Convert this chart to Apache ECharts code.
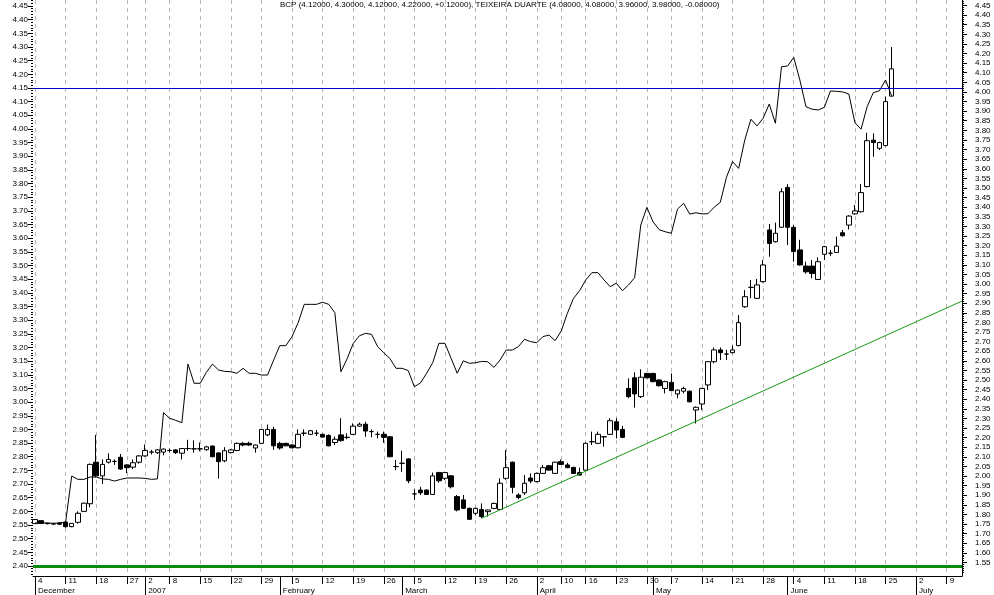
<!DOCTYPE html>
<html>
<head>
<meta charset="utf-8">
<script src="https://cdn.jsdelivr.net/npm/echarts@6/dist/echarts.min.js"></script>
<style>
  html, body { margin: 0; padding: 0; background: #fff; }
  #chart { width: 994px; height: 595px; }
</style>
</head>
<body>
<div id="chart"></div>
<script>
  // BCP daily candles (left axis), 4 Dec 2006 .. 26 Jun 2007
  const bcpOpen = [
    2.555, 2.566, 2.556, 2.554, 2.557, 2.561, 2.544, 2.560, 2.600, 2.628,
    2.780, 2.730, 2.780, 2.783, 2.798, 2.770, 2.762, 2.780, 2.803, 2.817,
    2.815, 2.817, 2.823, 2.825, 2.813, 2.830, 2.829, 2.829, 2.826, 2.839,
    2.814, 2.785, 2.815, 2.823, 2.849, 2.849, 2.832, 2.849, 2.880, 2.900,
    2.849, 2.849, 2.843, 2.833, 2.886, 2.882, 2.886, 2.882, 2.878, 2.852,
    2.880, 2.871, 2.882, 2.912, 2.919, 2.892, 2.882, 2.882, 2.873, 2.764,
    2.776, 2.792, 2.664, 2.678, 2.678, 2.662, 2.742, 2.721, 2.730, 2.654,
    2.642, 2.611, 2.593, 2.607, 2.599, 2.611, 2.607, 2.721, 2.780, 2.660,
    2.668, 2.722, 2.709, 2.739, 2.767, 2.739, 2.782, 2.770, 2.761, 2.742,
    2.751, 2.855, 2.849, 2.873, 2.882, 2.928, 2.900, 3.050, 3.089, 3.020,
    3.105, 3.105, 3.081, 3.050, 3.072, 3.030, 3.040, 3.040, 2.971, 2.993,
    3.063, 3.148, 3.191, 3.176, 3.181, 3.207, 3.349, 3.420, 3.380, 3.441,
    3.630, 3.587, 3.640, 3.786, 3.640, 3.557, 3.498, 3.498, 3.449, 3.541,
    3.545, 3.548, 3.620, 3.648, 3.689, 3.697, 3.789, 3.959, 3.929, 3.939,
    4.120
  ];
  const bcpClose = [
    2.570, 2.556, 2.555, 2.554, 2.553, 2.544, 2.556, 2.593, 2.630, 2.772,
    2.730, 2.772, 2.790, 2.783, 2.755, 2.760, 2.778, 2.803, 2.823, 2.817,
    2.825, 2.828, 2.823, 2.815, 2.830, 2.830, 2.829, 2.829, 2.836, 2.800,
    2.782, 2.822, 2.825, 2.849, 2.843, 2.843, 2.843, 2.900, 2.900, 2.840,
    2.832, 2.840, 2.833, 2.882, 2.886, 2.895, 2.886, 2.872, 2.840, 2.864,
    2.859, 2.871, 2.912, 2.919, 2.894, 2.892, 2.882, 2.871, 2.800, 2.764,
    2.776, 2.712, 2.664, 2.668, 2.662, 2.730, 2.712, 2.742, 2.690, 2.605,
    2.611, 2.571, 2.611, 2.581, 2.605, 2.629, 2.703, 2.760, 2.688, 2.651,
    2.703, 2.711, 2.739, 2.760, 2.751, 2.780, 2.772, 2.760, 2.739, 2.733,
    2.849, 2.855, 2.882, 2.873, 2.932, 2.898, 2.871, 3.020, 3.030, 3.091,
    3.089, 3.075, 3.060, 3.075, 3.042, 3.044, 3.050, 3.001, 2.981, 3.050,
    3.148, 3.191, 3.181, 3.176, 3.191, 3.291, 3.386, 3.420, 3.429, 3.502,
    3.581, 3.618, 3.770, 3.640, 3.551, 3.502, 3.477, 3.471, 3.514, 3.569,
    3.545, 3.571, 3.609, 3.681, 3.700, 3.767, 3.957, 3.950, 3.950, 4.100,
    4.220
  ];
  const bcpLow = [
    2.555, 2.554, 2.552, 2.550, 2.550, 2.540, 2.542, 2.555, 2.598, 2.615,
    2.725, 2.700, 2.775, 2.770, 2.752, 2.740, 2.755, 2.775, 2.800, 2.808,
    2.810, 2.805, 2.815, 2.810, 2.790, 2.822, 2.815, 2.820, 2.822, 2.798,
    2.720, 2.780, 2.812, 2.820, 2.838, 2.840, 2.815, 2.847, 2.875, 2.825,
    2.826, 2.838, 2.831, 2.830, 2.876, 2.880, 2.876, 2.870, 2.838, 2.843,
    2.855, 2.864, 2.880, 2.910, 2.873, 2.871, 2.867, 2.851, 2.798, 2.751,
    2.745, 2.703, 2.642, 2.660, 2.660, 2.660, 2.705, 2.715, 2.684, 2.600,
    2.608, 2.568, 2.587, 2.575, 2.581, 2.608, 2.605, 2.715, 2.666, 2.644,
    2.660, 2.703, 2.706, 2.737, 2.749, 2.737, 2.770, 2.758, 2.737, 2.731,
    2.749, 2.843, 2.846, 2.837, 2.880, 2.867, 2.868, 3.014, 2.980, 3.015,
    3.087, 3.072, 3.057, 3.032, 3.040, 3.014, 3.032, 2.999, 2.922, 2.971,
    3.044, 3.142, 3.154, 3.154, 3.178, 3.204, 3.345, 3.380, 3.377, 3.438,
    3.532, 3.584, 3.638, 3.575, 3.514, 3.500, 3.470, 3.453, 3.447, 3.520,
    3.535, 3.546, 3.606, 3.632, 3.686, 3.694, 3.786, 3.898, 3.923, 3.936,
    4.120
  ];
  const bcpHigh = [
    2.572, 2.566, 2.558, 2.558, 2.560, 2.562, 2.557, 2.600, 2.632, 2.775,
    2.880, 2.790, 2.812, 2.790, 2.810, 2.772, 2.790, 2.806, 2.845, 2.825,
    2.828, 2.830, 2.830, 2.828, 2.832, 2.862, 2.860, 2.852, 2.840, 2.842,
    2.816, 2.835, 2.828, 2.852, 2.853, 2.855, 2.845, 2.902, 2.918, 2.910,
    2.855, 2.851, 2.845, 2.900, 2.900, 2.898, 2.898, 2.884, 2.882, 2.874,
    2.941, 2.886, 2.922, 2.925, 2.928, 2.900, 2.892, 2.892, 2.876, 2.788,
    2.822, 2.795, 2.681, 2.690, 2.680, 2.742, 2.745, 2.745, 2.733, 2.660,
    2.660, 2.614, 2.614, 2.629, 2.606, 2.632, 2.721, 2.825, 2.782, 2.666,
    2.733, 2.739, 2.742, 2.770, 2.770, 2.782, 2.790, 2.778, 2.763, 2.760,
    2.852, 2.892, 2.892, 2.876, 2.941, 2.941, 2.913, 3.087, 3.109, 3.120,
    3.107, 3.107, 3.083, 3.078, 3.105, 3.046, 3.056, 3.042, 2.984, 3.052,
    3.150, 3.200, 3.200, 3.191, 3.207, 3.319, 3.410, 3.447, 3.451, 3.520,
    3.652, 3.657, 3.783, 3.798, 3.648, 3.594, 3.514, 3.520, 3.530, 3.572,
    3.557, 3.606, 3.630, 3.684, 3.722, 3.798, 3.986, 3.984, 3.953, 4.118,
    4.300
  ];
  // Teixeira Duarte close (right axis)
  const tdClose = [
    1.756, 1.756, 1.756, 1.754, 1.756, 1.760, 2.000, 1.983, 1.983, 1.995,
    1.995, 1.985, 1.983, 1.974, 1.983, 1.990, 1.990, 1.990, 1.988, 1.983,
    1.985, 2.330, 2.301, 2.290, 2.278, 2.583, 2.483, 2.483, 2.540, 2.583,
    2.552, 2.545, 2.543, 2.535, 2.561, 2.535, 2.535, 2.526, 2.526, 2.604,
    2.679, 2.679, 2.726, 2.798, 2.894, 2.894, 2.894, 2.905, 2.894, 2.851,
    2.543, 2.610, 2.690, 2.730, 2.743, 2.738, 2.674, 2.642, 2.612, 2.561,
    2.561, 2.549, 2.465, 2.485, 2.535, 2.590, 2.691, 2.691, 2.613, 2.535,
    2.600, 2.587, 2.590, 2.597, 2.595, 2.566, 2.604, 2.656, 2.656, 2.674,
    2.712, 2.700, 2.694, 2.726, 2.734, 2.705, 2.755, 2.847, 2.925, 2.965,
    3.021, 3.059, 3.059, 3.021, 2.986, 3.004, 2.965, 2.995, 3.033, 3.307,
    3.399, 3.324, 3.283, 3.272, 3.264, 3.390, 3.420, 3.364, 3.371, 3.365,
    3.366, 3.400, 3.425, 3.555, 3.637, 3.602, 3.750, 3.858, 3.823, 3.863,
    3.937, 3.837, 4.131, 4.135, 4.180, 4.062, 3.923, 3.910, 3.906, 3.920,
    4.005, 4.003, 4.000, 3.989, 3.840, 3.806, 3.923, 3.996, 4.006, 4.062,
    3.980
  ];

  const titleText = 'BCP (4.12000, 4.30000, 4.12000, 4.22000, +0.12000), TEIXEIRA DUARTE (4.08000, 4.08000, 3.96000, 3.98000, -0.08000)'
  const monthNames = ['2007', 'February', 'March', 'April', 'May', 'June', 'July', 'August', 'September', 'October', 'November', 'December']
  const holidays = ['2006-12-25', '2006-12-26', '2007-01-01', '2007-04-06', '2007-04-09', '2007-05-01']
  const dayCount = 152
  const resistance = 4.15
  const support = 2.40
  const trendLine = [[73, 2.575], [151.5, 3.37]]

  const steps = (from, to, step) => {
    const out = []
    const n = Math.round((to - from) / step)
    for (let k = 0; k <= n; k++) out.push(Math.round((from + k * step) * 100) / 100)
    return out
  }
  const leftTicks = steps(2.40, 4.45, 0.05)
  const leftMinor = steps(2.37, 4.47, 0.01)
  const rightTicks = steps(1.55, 4.45, 0.05)
  const rightMinor = steps(1.50, 4.47, 0.01)

  // trading days
  const days = []
  const d = new Date(Date.UTC(2006, 11, 4))
  while (days.length < dayCount) {
    const wd = d.getUTCDay()
    const key = d.toISOString().slice(0, 10)
    if (wd !== 0 && wd !== 6 && holidays.indexOf(key) < 0) days.push(new Date(d))
    d.setUTCDate(d.getUTCDate() + 1)
  }
  const weekStarts = []
  const monthStarts = []
  days.forEach((day, i) => {
    if (i === 0 || day.getUTCDay() <= days[i - 1].getUTCDay()) weekStarts.push(i)
    if (i === 0 || day.getUTCMonth() !== days[i - 1].getUTCMonth()) monthStarts.push(i)
  })

  const candles = bcpOpen.map((o, i) => [i, o, bcpClose[i], bcpLow[i], bcpHigh[i]])
  const tdLine = tdClose.map((v, i) => [i, v])

  const xMin = -0.33
  const xMax = 151.5
  const font = 'Liberation Sans, Arial, sans-serif'

  var myChart = echarts.init(document.getElementById('chart'))
  var option = {
    animation: false,
    backgroundColor: '#fff',
    textStyle: { fontFamily: font },
    title: {
      text: titleText,
      left: 280,
      top: 1,
      padding: 0,
      textStyle: { fontSize: 8, fontWeight: 'normal', color: '#000', fontFamily: font },
    },
    grid: { left: 33, right: 32, top: 0, bottom: 19, outerBoundsMode: 'none' },
    xAxis: [
      {
        type: 'value',
        min: xMin,
        max: xMax,
        position: 'bottom',
        axisLine: { show: true, onZero: false, lineStyle: { color: '#000', width: 1 } },
        axisTick: { show: true, customValues: weekStarts, length: 8, lineStyle: { color: '#000' } },
        axisLabel: {
          customValues: weekStarts,
          formatter: v => String(days[Math.round(v)].getUTCDate()),
          align: 'left',
          margin: 1,
          padding: [0, 0, 0, 3],
          fontSize: 8,
          color: '#000',
        },
        splitLine: { show: true, lineStyle: { color: '#b4b4b4', width: 1, type: [4, 4] } },
      },
      {
        type: 'value',
        min: xMin,
        max: xMax,
        position: 'bottom',
        axisLine: { show: false },
        axisTick: { show: true, customValues: monthStarts, length: 19, lineStyle: { color: '#000' } },
        axisLabel: {
          customValues: monthStarts,
          formatter: v => {
            const m = days[Math.round(v)].getUTCMonth()
            return Math.round(v) === 0 ? 'December' : monthNames[m]
          },
          align: 'left',
          margin: 11,
          padding: [0, 0, 0, 3],
          fontSize: 8,
          color: '#000',
        },
        splitLine: { show: false },
      },
    ],
    yAxis: [
      {
        type: 'value',
        position: 'left',
        min: 2.3634,
        max: 4.472,
        axisLine: { show: false, onZero: false },
        axisTick: { show: true, customValues: leftTicks, length: 5, lineStyle: { color: '#000' } },
        axisLabel: { customValues: leftTicks, formatter: v => v.toFixed(2), margin: 5, fontSize: 8, color: '#000' },
        splitLine: { show: false },
      },
      {
        type: 'value',
        position: 'right',
        min: 1.4797,
        max: 4.4786,
        axisLine: { show: true, onZero: false, lineStyle: { color: '#000' } },
        axisTick: { show: true, customValues: rightTicks, length: 5, lineStyle: { color: '#000' } },
        axisLabel: { customValues: rightTicks, formatter: v => v.toFixed(2), margin: 13, fontSize: 8, color: '#000' },
        splitLine: { show: false },
      },
      {
        // dotted minor ticks, left
        type: 'value',
        position: 'left',
        min: 2.3634,
        max: 4.472,
        axisLine: { show: false, onZero: false },
        axisTick: { show: true, customValues: leftMinor, length: 2, lineStyle: { color: '#000' } },
        axisLabel: { show: false },
        splitLine: { show: false },
      },
      {
        // minor ticks, right
        type: 'value',
        position: 'right',
        min: 1.4797,
        max: 4.4786,
        axisLine: { show: false, onZero: false },
        axisTick: { show: true, customValues: rightMinor, length: 2, lineStyle: { color: '#000' } },
        axisLabel: { show: false },
        splitLine: { show: false },
      },
    ],
    series: [
      {
        name: 'TEIXEIRA DUARTE',
        type: 'line',
        xAxisIndex: 0,
        yAxisIndex: 1,
        data: tdLine,
        showSymbol: false,
        symbol: 'none',
        lineStyle: { color: '#000', width: 1 },
        silent: true,
      },
      {
        name: 'trend',
        type: 'line',
        xAxisIndex: 0,
        yAxisIndex: 0,
        data: trendLine,
        symbol: 'none',
        lineStyle: { color: '#159a15', width: 1 },
        silent: true,
      },
      {
        name: 'BCP',
        type: 'candlestick',
        xAxisIndex: 0,
        yAxisIndex: 0,
        dimensions: ['idx', 'open', 'close', 'lowest', 'highest'],
        encode: { x: 0, y: [1, 2, 3, 4] },
        data: candles,
        barWidth: 5,
        itemStyle: {
          color: '#fff',
          color0: '#000',
          borderColor: '#000',
          borderColor0: '#000',
          borderWidth: 1,
        },
        silent: true,
        markLine: {
          symbol: 'none',
          silent: true,
          label: { show: false },
          data: [
            { yAxis: resistance, lineStyle: { color: '#0000c0', width: 1, type: 'solid' } },
            { yAxis: support, lineStyle: { color: '#0a8c0a', width: 3, type: 'solid' } },
          ],
        },
      },
    ],
  }
  option && myChart.setOption(option)
</script>
</body>
</html>
